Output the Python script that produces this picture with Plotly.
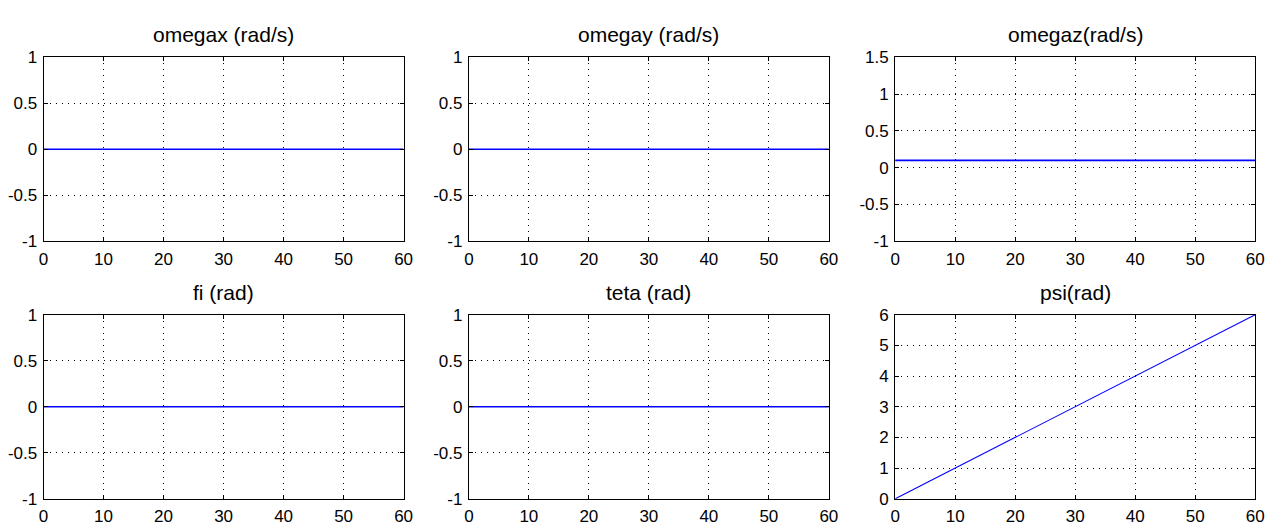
import plotly.graph_objects as go

# ---- data ----
t = [0, 5, 10, 15, 20, 25, 30, 35, 40, 45, 50, 55, 60]
omegax = [0, 0, 0, 0, 0, 0, 0, 0, 0, 0, 0, 0, 0]
omegay = [0, 0, 0, 0, 0, 0, 0, 0, 0, 0, 0, 0, 0]
omegaz = [0.1, 0.1, 0.1, 0.1, 0.1, 0.1, 0.1, 0.1, 0.1, 0.1, 0.1, 0.1, 0.1]
fi = [0, 0, 0, 0, 0, 0, 0, 0, 0, 0, 0, 0, 0]
teta = [0, 0, 0, 0, 0, 0, 0, 0, 0, 0, 0, 0, 0]
psi = [0, 0.5, 1.0, 1.5, 2.0, 2.5, 3.0, 3.5, 4.0, 4.5, 5.0, 5.5, 6.0]

titles = ["omegax (rad/s)", "omegay (rad/s)", "omegaz(rad/s)", "fi (rad)", "teta (rad)", "psi(rad)"]

x_ticks = [0, 10, 20, 30, 40, 50, 60]
x_ticktext = ["0", "10", "20", "30", "40", "50", "60"]
y_ticks_a = [-1, -0.5, 0, 0.5, 1]
y_ticktext_a = ["-1", "-0.5", "0", "0.5", "1"]
y_ticks_z = [-1, -0.5, 0, 0.5, 1, 1.5]
y_ticktext_z = ["-1", "-0.5", "0", "0.5", "1", "1.5"]
y_ticks_psi = [0, 1, 2, 3, 4, 5, 6]
y_ticktext_psi = ["0", "1", "2", "3", "4", "5", "6"]

series = [omegax, omegay, omegaz, fi, teta, psi]
yranges = [[-1, 1], [-1, 1], [-1, 1.5], [-1, 1], [-1, 1], [0, 6]]
yticks = [(y_ticks_a, y_ticktext_a), (y_ticks_a, y_ticktext_a), (y_ticks_z, y_ticktext_z),
          (y_ticks_a, y_ticktext_a), (y_ticks_a, y_ticktext_a), (y_ticks_psi, y_ticktext_psi)]
widths = [1.6, 1.6, 1.6, 1.6, 1.6, 1.1]

# ---- layout geometry (pixels) ----
W, H = 1278, 531
cols_px = [(39, 403), (469, 833), (900, 1264)]
rows_px = [(50, 241), (317, 508)]
title_y_px = [26, 294]

FONT = "Liberation Sans, Arial, Helvetica, sans-serif"

fig = go.Figure()
annotations = []
for i in range(6):
    r, c = divmod(i, 3)
    ax = "" if i == 0 else str(i + 1)
    xd = [cols_px[c][0] / W, cols_px[c][1] / W]
    yd = [1 - rows_px[r][1] / H, 1 - rows_px[r][0] / H]
    fig.add_trace(go.Scatter(x=t, y=series[i], mode="lines",
                             line=dict(color="#0000ff", width=widths[i]),
                             xaxis="x" + ax, yaxis="y" + ax, showlegend=False))
    common = dict(showline=True, linecolor="black", linewidth=1, mirror="ticks",
                  ticks="inside", ticklen=4, tickcolor="black",
                  showgrid=True, gridcolor="black", griddash="1px,5px", gridwidth=1,
                  zeroline=False, tickfont=dict(family=FONT, size=17, color="black"),
                  fixedrange=True)
    fig.update_layout(**{
        "xaxis" + ax: dict(domain=xd, range=[0, 60], tickvals=x_ticks, ticktext=x_ticktext,
                           anchor="y" + ax, ticklabelstandoff=2, **common),
        "yaxis" + ax: dict(domain=yd, range=yranges[i], tickvals=yticks[i][0],
                           ticktext=yticks[i][1], anchor="x" + ax, ticklabelstandoff=2, **common),
    })
    annotations.append(dict(text=titles[i], x=(xd[0] + xd[1]) / 2, y=1 - title_y_px[r] / H,
                            xref="paper", yref="paper", xanchor="center", yanchor="middle",
                            showarrow=False, font=dict(family=FONT, size=21, color="black")))

fig.update_layout(width=W, height=H, margin=dict(l=0, r=0, t=0, b=0),
                  paper_bgcolor="white", plot_bgcolor="white", annotations=annotations)

fig.write_html("out.html")
